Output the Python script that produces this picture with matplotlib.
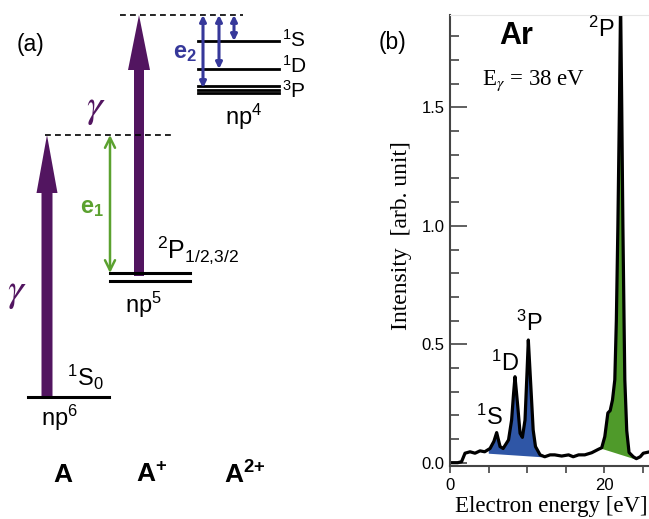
import numpy as np
import matplotlib.pyplot as plt

plt.rcParams['font.family'] = ['Liberation Sans', 'DejaVu Sans']
plt.rcParams['mathtext.fontset'] = 'custom'
plt.rcParams['mathtext.rm'] = 'Liberation Sans'
plt.rcParams['mathtext.it'] = 'Liberation Sans:italic'
plt.rcParams['mathtext.bf'] = 'Liberation Sans:bold'

# ---- spectrum (b)
energy = [0, 1.0, 1.5, 1.95, 2.6, 3.25, 3.9, 4.5, 5.2, 5.7, 6.06, 6.5, 6.9, 7.6, 8.0, 8.25,
          8.44, 8.8, 9.1, 9.4, 9.74, 10.0, 10.17, 10.5, 10.8, 11.1, 11.7, 12.3, 13.0, 13.6,
          14.5, 15.4, 16.0, 16.7, 17.5, 18.4, 19.3, 19.7, 20.1, 20.5, 20.8, 21.1, 21.4, 21.6,
          21.8, 22.0, 22.15, 22.3, 22.45, 22.6, 22.7, 22.95, 23.25, 23.8, 24.2, 24.7, 25.1, 25.8]
intensity = [0.0, 0.0, 0.004, 0.04, 0.046, 0.04, 0.05, 0.046, 0.06, 0.09, 0.127, 0.068, 0.06,
             0.096, 0.18, 0.29, 0.363, 0.237, 0.124, 0.107, 0.18, 0.38, 0.518, 0.32, 0.138,
             0.068, 0.033, 0.025, 0.033, 0.033, 0.028, 0.033, 0.025, 0.033, 0.033, 0.042,
             0.057, 0.063, 0.11, 0.21, 0.22, 0.265, 0.35, 0.6, 1.0, 1.5, 1.95, 1.5, 1.0, 0.6,
             0.35, 0.135, 0.043, 0.025, 0.017, 0.025, 0.04, 0.045]
# shaded bands: (x0, y0) -> (x1, y1) lower edge
band_blue = [(4.97, 0.04), (11.9, 0.025)]
band_green = [(19.7, 0.06), (24.0, 0.016)]
peak_names = ['$^1$S', '$^1$D', '$^3$P', '$^2$P']
peak_pos = [(5.06, 0.19), (7.14, 0.42), (10.26, 0.59), (19.6, 1.83)]
xticks = [0, 5, 10, 15, 20, 25]
xticklabels = ['0', '', '', '', '20', '']
yticks = [0.0, 0.5, 1.0, 1.5]
yticklabels = ['0.0', '0.5', '1.0', '1.5']

# ---- level scheme (a), drawn in pixel units of the left part
np6_level = 397
np5_levels = [273, 281]
np4_levels = [41, 69, 86, 89.5, 93]
np4_names = ['$^1$S', '$^1$D', '$^3$P']
np4_label_base = [47, 73, 98]
top_ion = 135      # photon energy above ground
top_dion = 15      # photon energy above np5
e2_ends = [88, 69, 41]
ions = ['A', 'A$^{\\mathbf{+}}$', 'A$^{\\mathbf{2{+}}}$']

purple = '#521560'
green1 = '#5ba12f'
blue1 = '#36389a'

fig = plt.figure(figsize=(6.49, 5.19), dpi=100)
ax0 = fig.add_axes([0, 0, 1, 1])
ax0.set_xlim(0, 649)
ax0.set_ylim(519, 0)
ax0.axis('off')

# levels
ax0.plot([28, 109], [np6_level] * 2, color='k', lw=2.2)
for y in np5_levels:
    ax0.plot([110, 190], [y, y], color='k', lw=2.2)
for y in np4_levels:
    ax0.plot([198, 279], [y, y], color='k', lw=2.0)
ax0.plot([45, 175], [top_ion] * 2, color='k', lw=1.2, ls=(0, (3.5, 2.5)))
ax0.plot([120, 243], [top_dion] * 2, color='k', lw=1.2, ls=(0, (3.5, 2.5)))

# photon arrows
ax0.arrow(47, np6_level, 0, top_ion - np6_level, width=11, head_width=21, head_length=58,
          length_includes_head=True, color=purple, lw=0)
ax0.arrow(139, np5_levels[0] + 3, 0, top_dion - np5_levels[0] - 3, width=10, head_width=22,
          head_length=55, length_includes_head=True, color=purple, lw=0)

# electrons
ax0.annotate('', xy=(110, top_ion), xytext=(110, np5_levels[0]),
             arrowprops=dict(arrowstyle='<->', color=green1, lw=1.8, mutation_scale=18,
                             shrinkA=0, shrinkB=0))
for x, y in zip([203, 219, 234], e2_ends):
    ax0.annotate('', xy=(x, top_dion), xytext=(x, y),
                 arrowprops=dict(arrowstyle='<|-|>', color=blue1, lw=2.2, mutation_scale=9,
                                 shrinkA=0, shrinkB=0))

ax0.text(30, 45, '(a)', fontsize=16.5, ha='center', va='center')
for x, y in [(17, 292), (96, 108)]:
    ax0.text(x, y, '$\\gamma$', fontsize=29, color=purple, ha='center', va='center',
             math_fontfamily='stix')
ax0.text(92, 208, '$\\mathbf{e_1}$', fontsize=17, color=green1, ha='center', va='center')
ax0.text(185, 53, '$\\mathbf{e_2}$', fontsize=17, color=blue1, ha='center', va='center')
for name, yb in zip(np4_names, np4_label_base):
    ax0.text(282, yb, name, fontsize=15, ha='left', va='baseline')
ax0.text(244, 117, 'np$^4$', fontsize=17, ha='center', va='center')
ax0.text(157, 250, '$^2$P$_{1/2{,}3/2}$', fontsize=18, ha='left', va='center')
ax0.text(143, 305, 'np$^5$', fontsize=17, ha='center', va='center')
ax0.text(67, 377, '$^1$S$_0$', fontsize=17, ha='left', va='center')
ax0.text(60, 418, 'np$^6$', fontsize=17, ha='center', va='center')
for x, s in zip([63, 152, 245], ions):
    ax0.text(x, 475, s, fontsize=19, fontweight='bold', ha='center', va='center')

ax0.text(393, 43, '(b)', fontsize=16.5, ha='center', va='center')
ax0.text(516, 36, 'Ar', fontsize=22, fontweight='bold', ha='center', va='center')
ax0.text(482, 81, 'E$_\\gamma$ = 38 eV', fontsize=16.5, family='Liberation Serif',
         math_fontfamily='stix', ha='left', va='center')

# ---- spectrum axes
ax = fig.add_axes([450 / 649, 53 / 519, 199 / 649, 451 / 519])
ax.set_xlim(0, 25.84)
ax.set_ylim(-0.014, 1.89)
ax.patch.set_alpha(0)

E = np.array(energy)
I = np.array(intensity)
for band, col in [(band_blue, '#2f56a6'), (band_green, '#4f9a2a')]:
    (x0, y0), (x1, y1) = band
    xs = np.concatenate([[x0], E[(E > x0) & (E < x1)], [x1]])
    ys = np.interp(xs, E, I)
    base = np.interp(xs, [x0, x1], [y0, y1])
    ax.fill_between(xs, base, np.maximum(ys, base), color=col, lw=0)
ax.plot(E, I, color='k', lw=2.3)

for s, (x, y) in zip(peak_names, peak_pos):
    ax.text(x, y, s, fontsize=17, ha='center', va='center')

ax.set_xticks(xticks)
ax.set_xticklabels(xticklabels)
ax.set_yticks(yticks)
ax.set_yticklabels(yticklabels)
ax.set_yticks(np.arange(0, 1.85, 0.1), minor=True)
ax.tick_params(axis='x', direction='out', length=5, width=1.2, labelsize=12, pad=4,
               color='#444')
ax.tick_params(axis='y', which='major', direction='in', length=12, width=1.2, labelsize=12,
               pad=4, color='#444')
ax.tick_params(axis='y', which='minor', direction='in', length=6.5, width=1.2, color='#444')
ax.spines['right'].set_visible(False)
ax.spines['top'].set_color('#e6e6e6')
for sp in ['left', 'bottom']:
    ax.spines[sp].set_color('#444')
    ax.spines[sp].set_linewidth(1.5)

ax.set_ylabel('Intensity  [arb. unit]', fontsize=17, family='Liberation Serif', va='center')
ax.yaxis.set_label_coords(-0.245, 0.512)
ax.set_xlabel('Electron energy [eV]', fontsize=16.5, family='Liberation Serif', va='baseline')
ax.xaxis.set_label_coords(0.507, -0.1020)

fig.savefig('out.png', dpi=100)
